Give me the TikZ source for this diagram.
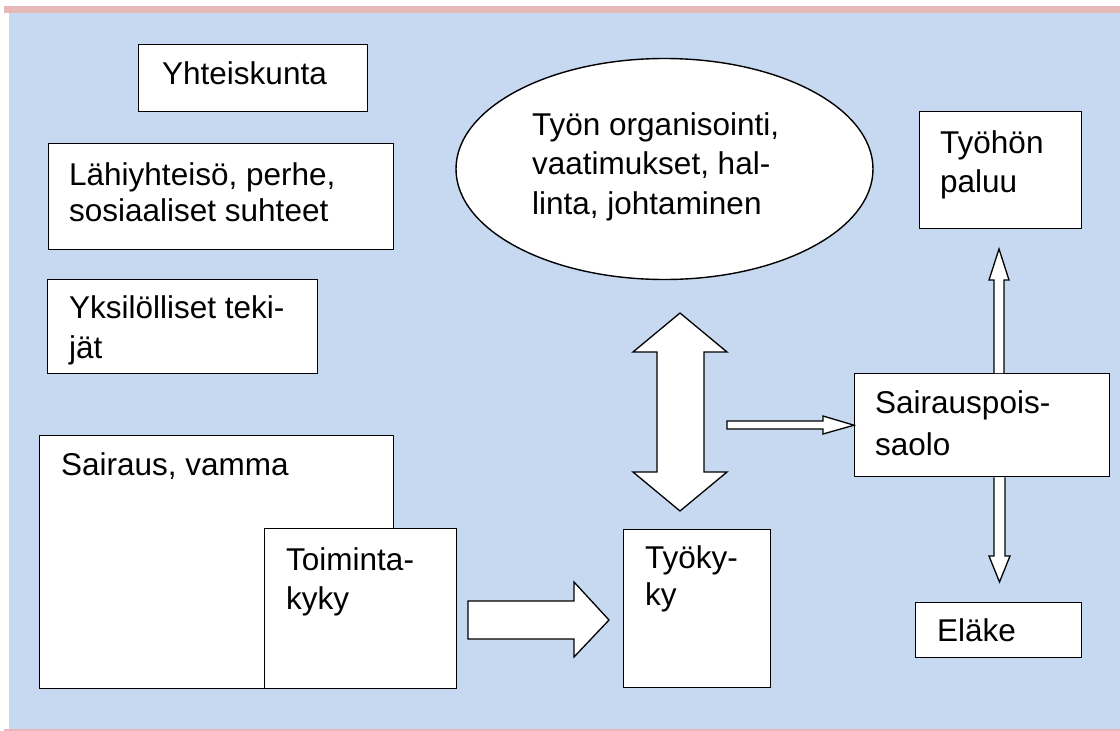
\documentclass[tikz,border=0pt]{standalone}
\usepackage{fontspec}
\setmainfont{Liberation Sans}
\usetikzlibrary{shapes.geometric}
\definecolor{bgblue}{RGB}{198,217,240}
\definecolor{pinkbar}{RGB}{230,184,183}
\newcommand\mlines[1]{\vtop{\halign{##\hfil\cr#1\crcr}}}
\begin{document}
\begin{tikzpicture}[x=1pt,y=-1pt,
  box/.style={draw=black, fill=white, line width=1.4pt, rectangle, inner sep=0pt, anchor=north west},
  txt/.style={inner sep=0pt, anchor=base west},
  blk/.style={draw=black, fill=white, line width=1.3pt, line join=miter}]
\useasboundingbox (0,0) rectangle (1120,731);
% background
\fill[bgblue] (9,13) rectangle (1120,729);
\fill[pinkbar] (4,6) rectangle (1120,13);
\fill[pinkbar] (4,729.3) rectangle (1120,731);
% boxes
\node[box, minimum width=229, minimum height=67] (yht) at (138,44) {};
\node[box, minimum width=345, minimum height=106] (lahi) at (48,143) {};
\node[box, minimum width=270, minimum height=94] (yks) at (47,279) {};
\node[box, minimum width=354, minimum height=253] (sair) at (39,435) {};
\node[box, minimum width=192, minimum height=160] (toim) at (264,528) {};
\node[box, minimum width=147, minimum height=158] (tyoky) at (623,529) {};
\node[box, minimum width=255, minimum height=103] (sp) at (854,373) {};
\node[box, minimum width=162, minimum height=117] (paluu) at (919,111) {};
\node[box, minimum width=166, minimum height=55] (elake) at (915,602) {};
\node[ellipse, draw=black, fill=white, line width=1.4pt, inner sep=0pt,
      minimum width=417, minimum height=221] (org) at (664.5,169) {};
% block arrows
\draw[blk] (468,601) -- (574,601) -- (574,582) -- (609,620) -- (574,657)
  -- (574,639) -- (468,639) -- cycle;
\draw[blk] (680,313) -- (727,352) -- (704,352) -- (704,472) -- (727,472)
  -- (680,511) -- (633,472) -- (657,472) -- (657,352) -- (633,352) -- cycle;
\draw[blk] (727,421) -- (823,421) -- (823,416) -- (sp.west) -- (823,434)
  -- (823,429) -- (727,429) -- cycle;
\draw[blk] (sp.north -| 994,0) -- (994,280) -- (989,280) -- (999,249) -- (1009,280)
  -- (1004,280) -- (sp.north -| 1004,0);
\draw[blk] (sp.south -| 994,0) -- (994,556) -- (989,556) -- (999.5,582) -- (1010,556)
  -- (1005,556) -- (sp.south -| 1005,0);
% texts
\node[txt, font=\fontsize{31.5}{36}\selectfont] (t-yht) at (162,84.3) {Yhteiskunta};
\node[txt, font=\fontsize{31.5}{36}\selectfont] (t-lahi) at (69,185.5) {\mlines{Lähiyhteisö, perhe,\cr sosiaaliset suhteet}};
\node[txt, font=\fontsize{31.5}{40}\selectfont] (t-yks) at (69,318.5) {\mlines{Yksilölliset teki-\cr jät}};
\node[txt, font=\fontsize{31.5}{36}\selectfont] (t-sair) at (61,475) {Sairaus, vamma};
\node[txt, font=\fontsize{31.5}{39}\selectfont] (t-toim) at (286,570) {\mlines{Toiminta-\cr kyky}};
\node[txt, font=\fontsize{31.5}{37}\selectfont] (t-tyoky) at (645,568.5) {\mlines{Työky-\cr ky}};
\node[txt, font=\fontsize{31.5}{39.5}\selectfont] (t-org) at (532,135) {\mlines{Työn organisointi,\cr vaatimukset, hal-\cr linta, johtaminen}};
\node[txt, font=\fontsize{31.5}{39}\selectfont] (t-paluu) at (940,153.5) {\mlines{Työhön\cr paluu}};
\node[txt, font=\fontsize{31.5}{42}\selectfont] (t-sp) at (875,413) {\mlines{Sairauspois-\cr saolo}};
\node[txt, font=\fontsize{31.5}{36}\selectfont] (t-elake) at (937,641.5) {Eläke};
\end{tikzpicture}
\end{document}
